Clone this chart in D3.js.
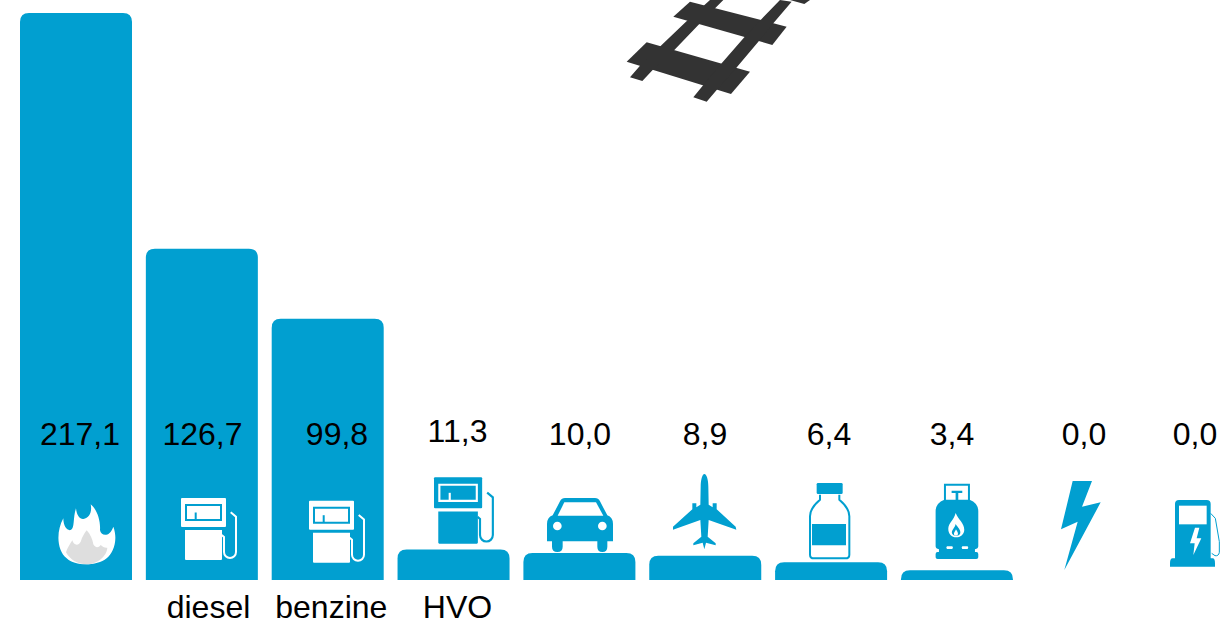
<!DOCTYPE html>
<html>
<head>
<meta charset="utf-8">
<script src="https://cdn.jsdelivr.net/npm/d3@7"></script>
<style>
	html, body { margin: 0; background: #fff; overflow: hidden; }
	svg { display: block; }
	text { font-family: "Liberation Sans", Arial, sans-serif; font-size: 32px; fill: #000; }
</style>
</head>
<body>
<script>
//the data
const keys = ["fire", "diesel", "benzine", "hvo", "car", "plane", "bottle", "gas", "power", "charger"];
const values = [217.1, 126.7, 99.8, 11.3, 10.0, 8.9, 6.4, 3.4, 0.0, 0.0];
const valueLabels = ["217,1", "126,7", "99,8", "11,3", "10,0", "8,9", "6,4", "3,4", "0,0", "0,0"];
const categoryLabels = ["", "diesel", "benzine", "HVO", "", "", "", "", "", ""];

const size_graph = {x : 1221, y : 620};
const BLUE = "#019fd0";
const BAR_RADIUS = 9;
const BASELINE = 580;

var x = d3.scaleBand().domain(keys).range([20, 1264.65]).paddingInner(13.85 / 125.85).paddingOuter(0);
var y = d3.scaleLinear().domain([0, 217.1]).range([579, 13]);

const svg = d3.select("body").append("svg")
	.attr("width", size_graph.x)
	.attr("height", size_graph.y);

//Bars with rounded top corners
const bar_path = (d, i) => {
	if (d <= 0) return "";
	const h = BASELINE - y(d);
	const left = x(keys[i]), right = left + x.bandwidth(), top = y(d), r = BAR_RADIUS;
	const path = d3.path();
	path.moveTo(left, BASELINE);
	path.lineTo(left, top + Math.min(r, h));
	path.quadraticCurveTo(left, top, left + r, top);
	path.lineTo(right - r, top);
	path.quadraticCurveTo(right, top, right, top + Math.min(r, h));
	path.lineTo(right, BASELINE);
	path.closePath();
	return path.toString();
};

svg.selectAll(".bar")
	.data(values)
	.enter()
	.append("path")
	.attr("class", "bar")
	.attr("d", bar_path)
	.attr("fill", BLUE);

//Value labels, they do not sit exactly on the bar centre in the original
const valueShift = [4, 0.65, 9.3, 4, 0.6, -0.25, -2.1, -4.95, 1.2, -13.65];
const valueBase = [445, 445, 445, 442, 445, 445, 445, 445, 445, 445];
svg.selectAll(".value")
	.data(valueLabels)
	.enter()
	.append("text")
	.attr("class", "value")
	.attr("text-anchor", "middle")
	.attr("x", (d, i) => x(keys[i]) + x.bandwidth() / 2 + valueShift[i])
	.attr("y", (d, i) => valueBase[i])
	.text(d => d);

const catShift = [0, 6.65, 3.6, 3.95, 0, 0, 0, 0, 0, 0];
svg.selectAll(".category")
	.data(categoryLabels)
	.enter()
	.append("text")
	.attr("class", "category")
	.attr("text-anchor", "middle")
	.attr("x", (d, i) => x(keys[i]) + x.bandwidth() / 2 + catShift[i])
	.attr("y", 618)
	.text(d => d);

/*
	The icons, each one is a list of layers
	ink = icon colour, hole = colour behind the icon
*/
const pump = [
	{role: "ink", d: "M0 1Q0 0 1 0H44Q45 0 45 1V28Q45 29 44 29H1Q0 29 0 28Z"},
	{role: "holeLine", w: 2, d: "M5 7H40V22H5Z"},
	{role: "holeLine", w: 2, d: "M14.7 14.5V22"},
	{role: "ink", d: "M4 32H41V61Q41 62 40 62H5Q4 62 4 61Z"},
	{role: "inkLine", w: 2, d: "M40.7 37L43 39V54A6 6 0 0 0 55 54V18.7L49.7 14.3"}
];
const flame = [
	{role: "ink", d: "M122 28C140 42 152 75 150 105C152 122 178 130 190 95C205 135 190 175 170 190C140 214 75 214 50 190C20 165 18 110 40 70C40 95 52 108 62 105C75 100 68 70 78 40C80 62 90 73 100 72C118 70 127 50 122 28Z"},
	{fill: "#dedede", d: "M48 172C52 160 58 150 67 136C70 150 85 155 92 140C97 125 103 115 110 106C122 118 128 135 130 148C135 158 145 160 152 150C158 155 165 160 172 158C170 185 140 208 110 208C85 208 60 195 48 172Z"}
];
const car = [
	{role: "ink", d: "M525 294H615Q625 294 630 304L652 346Q669 352 669 372V424H652V440Q652 456 637 456Q622 456 622 440V424H518V440Q518 456 502 456Q486 456 486 440V424H471V372Q471 352 488 346L510 304Q515 294 525 294Z"},
	{role: "hole", d: "M523 307H618L640 347H503Z"},
	{role: "hole", d: "M489 378A13 13 0 1 0 515 378A13 13 0 1 0 489 378Z"},
	{role: "hole", d: "M624 378A13 13 0 1 0 650 378A13 13 0 1 0 624 378Z"}
];
const plane = [
	{role: "ink", d: "M118 12C125 12 130 30 130 50L131 104L143 112V100H155V118L212 170L214 179L131 150L128 200L152 220V226L123 218L118 238L113 218L85 226V220L109 200L106 150L24 179V170L82 118V100H94V112L106 104L107 50C107 30 112 12 118 12Z"}
];
const bottle = [
	{role: "ink", d: "M54 15H124Q128 15 128 19V44Q128 48 124 48H54Q50 48 50 44V19Q50 15 54 15Z"},
	{role: "inkLine", w: 6, d: "M60 50V65Q30 90 30 115V230Q30 241 42 241H136Q148 241 148 230V115Q148 90 118 65V50"},
	{role: "ink", d: "M36 138H138V202H36Z"}
];
const gas = [
	{role: "inkLine", w: 6, d: "M60 68V20H132V68"},
	{role: "ink", d: "M80 38H112V45H100V66H92V45H80Z"},
	{role: "ink", d: "M58 65H134Q160 75 160 100V205Q160 212 150 214V222H154Q160 222 160 228V238Q160 243 154 243H38Q32 243 32 238V228Q32 222 38 222H42V214Q32 212 32 205V100Q32 75 58 65Z"},
	{role: "hole", d: "M92 105C100 125 118 135 118 155C118 170 105 178 94 178C80 178 70 168 70 152C70 135 88 125 92 105Z"},
	{role: "ink", d: "M92 138C98 148 108 155 106 166C104 176 84 176 81 166C79 156 90 150 92 138Z"},
	{role: "hole", d: "M93 154C96 160 100 163 99 169C98 174 88 174 87 169C86 163 92 160 93 154Z"},
	{role: "hole", d: "M66 205H82Q86 209 82 213H66Q62 209 66 205Z"},
	{role: "hole", d: "M112 205H128Q132 209 128 213H112Q108 209 112 205Z"}
];
const bolt = [
	{role: "ink", d: "M878 243H936L906 320L962 307L853 510L893 365L843 388Z"}
];
const charger = [
	{role: "ink", d: "M57 15H140Q152 15 152 27V190H158Q165 190 165 205V215H30V205Q30 190 38 190H45V27Q45 15 57 15Z"},
	{role: "hole", d: "M57 32H140V88H57Z"},
	{role: "hole", d: "M105 98L90 145H104L100 180L124 130H110L118 98Z"},
	{role: "inkLine", w: 3, d: "M152 55L166 70L178 140V172Q176 184 165 182L155 175"}
];

//where each icon goes, dx is measured from the left of the band
const iconLayout = [
	{key: "fire", icon: flame, dx: 30, y: 495, s: 1 / 3, ink: "#fff", hole: BLUE},
	{key: "diesel", icon: pump, dx: 35.15, y: 498, s: 1, ink: "#fff", hole: BLUE},
	{key: "benzine", icon: pump, dx: 37.3, y: 500.7, s: 1, ink: "#fff", hole: BLUE},
	{key: "hvo", icon: pump, dx: 36.45, y: 477.3, s: 1.07, ink: BLUE, hole: "#fff"},
	{key: "car", icon: car, dx: -133.4, y: 400, s: 1 / 3, ink: BLUE, hole: "#fff"},
	{key: "plane", icon: plane, dx: 15.75, y: 470, s: 1 / 3, ink: BLUE, hole: "#fff"},
	{key: "bottle", icon: bottle, dx: 24.9, y: 478, s: 1 / 3, ink: BLUE, hole: "#fff"},
	{key: "gas", icon: gas, dx: 24, y: 478, s: 1 / 3, ink: BLUE, hole: "#fff"},
	{key: "power", icon: bolt, dx: -246.8, y: 400, s: 1 / 3, ink: BLUE, hole: "#fff"},
	{key: "charger", icon: charger, dx: 7.35, y: 495, s: 1 / 3, ink: BLUE, hole: "#fff"}
];

const add_icon = (g, layers, ink, hole) => {
	layers.forEach(l => {
		const line = l.role === "inkLine" || l.role === "holeLine";
		const colour = l.fill || (l.role.startsWith("ink") ? ink : hole);
		g.append("path")
			.attr("d", l.d)
			.attr("fill", line ? "none" : colour)
			.attr("stroke", line ? colour : "none")
			.attr("stroke-width", line ? l.w : null);
	});
};

iconLayout.forEach(c => {
	const g = svg.append("g")
		.attr("transform", `translate(${x(c.key) + c.dx}, ${c.y}) scale(${c.s})`);
	add_icon(g, c.icon, c.ink, c.hole);
});

//The piece of railway at the top
const rail = [
	"M110 127L420 215L363 282L50 185Z",
	"M240 5L530 80L487 135L190 50Z",
	"M60 232L97 243L130 208L193 150L265 75L340 0H300L228 65L155 135L90 197Z",
	"M250 292L290 305L322 268L378 205L445 125L490 70L545 5L510 0L452 60L403 112L335 190L280 255Z",
	"M540 0L583 12L600 0Z"
];
svg.append("g")
	.attr("transform", "translate(610, 0) scale(0.3333)")
	.selectAll("path")
	.data(rail)
	.enter()
	.append("path")
	.attr("d", d => d)
	.attr("fill", "#333");
</script>
</body>
</html>
